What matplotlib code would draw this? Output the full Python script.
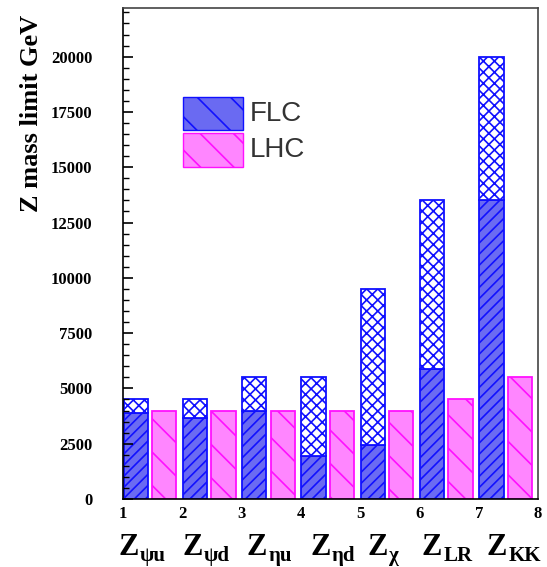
#!/usr/bin/env python3

import matplotlib
matplotlib.use("Agg")
import matplotlib.pyplot as plt
from matplotlib.patches import Rectangle

# Z' models and mass reach (GeV)
models = ["\u03c8u", "\u03c8d", "\u03b7u", "\u03b7d", "\u03c7", "LR", "KK"]
label_pos = [0.92, 2.0, 3.09, 4.16, 5.12, 6.04, 7.14]
positions = [1, 2, 3, 4, 5, 6, 7]
flc_total = [4500, 4500, 5500, 5500, 9500, 13500, 20000]
flc_low = [3900, 3650, 4000, 1950, 2450, 5900, 13500]
lhc = [4000, 4000, 4000, 4000, 4000, 4500, 5500]

BLUE = "#1010ff"
BLUE_FILL = "#6a6af2"
MAG = "#ff10ff"
MAG_FILL = "#ff86ff"

plt.rcParams['hatch.linewidth'] = 1.2
serif = ['Liberation Serif', 'DejaVu Serif']

fig = plt.figure(figsize=(5.47, 5.67), dpi=100)
ax = fig.add_axes([0.2249, 0.1199, 0.7586, 0.866])

xf = [p + 0.01 for p in positions]
xl = [p + 0.49 for p in positions]
upper = [t - l for t, l in zip(flc_total, flc_low)]

ax.bar(xf, flc_low, width=0.41, align='edge', color=BLUE_FILL,
       edgecolor=BLUE, hatch='///', linewidth=1.3)
ax.bar(xf, upper, bottom=flc_low, width=0.41, align='edge', color='white',
       edgecolor=BLUE, hatch='xxx', linewidth=1.3)
ax.bar(xl, lhc, width=0.41, align='edge', color=MAG_FILL,
       edgecolor=MAG, hatch='\\', linewidth=1.3)

ax.set_xlim(1, 8)
ax.set_ylim(0, 22200)
ax.set_yticks(range(0, 20001, 2500))
ax.set_yticks(range(0, 22001, 500), minor=True)
ax.set_xticks(range(1, 9))
ax.tick_params(axis='y', which='major', direction='in', length=7, width=1.2,
               labelsize=12, pad=22)
ax.tick_params(axis='y', which='minor', direction='in', length=4, width=1.0)
ax.tick_params(axis='x', length=0, labelsize=12, pad=5)
for lab in ax.get_xticklabels() + ax.get_yticklabels():
    lab.set_family(serif)
    lab.set_fontweight('bold')
for s in ax.spines.values():
    s.set_linewidth(1.2)
ax.spines['right'].set_color('#444444')
ax.spines['top'].set_color('#444444')

ax.set_ylabel("Z mass limit GeV", family=serif, fontweight='bold',
              fontsize=19, loc='top')
ax.yaxis.set_label_coords(-0.193, 0.985)

# category labels below the axis
for x, m in zip(label_pos, models):
    ax.text(x, -0.113, "Z", transform=ax.get_xaxis_transform(),
            family=serif, fontweight='bold', fontsize=22, ha='left', va='baseline')
    ax.annotate(m, xy=(x, -0.113), xycoords=ax.get_xaxis_transform(),
                xytext=(15.5, -5), textcoords='offset points',
                family=serif, fontweight='bold', fontsize=15, ha='left', va='baseline',
                annotation_clip=False)

# legend
ax.add_patch(Rectangle((0.1446, 0.7515), 0.1446, 0.0672, transform=ax.transAxes,
                       facecolor=BLUE_FILL, edgecolor=BLUE, hatch='\\', linewidth=1.0))
ax.add_patch(Rectangle((0.1446, 0.6762), 0.1446, 0.0692, transform=ax.transAxes,
                       facecolor=MAG_FILL, edgecolor=MAG, hatch='\\', linewidth=1.0))
ax.text(0.305, 0.785, "FLC", transform=ax.transAxes, fontsize=20,
        family='Liberation Sans', color='#333333', va='center', ha='left')
ax.text(0.305, 0.711, "LHC", transform=ax.transAxes, fontsize=20,
        family='Liberation Sans', color='#333333', va='center', ha='left')

fig.savefig("out.png", dpi=100)
